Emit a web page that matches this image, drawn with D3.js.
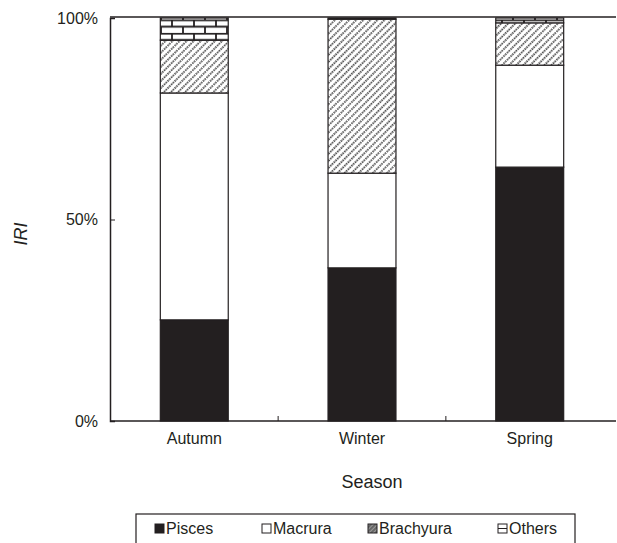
<!DOCTYPE html>
<html><head><meta charset="utf-8">
<script src="https://cdn.jsdelivr.net/npm/d3@7/dist/d3.min.js"></script>
<style>body{margin:0;background:#fff}svg{display:block}text{font-family:"Liberation Sans",Arial,sans-serif;fill:#231f20}</style>
</head><body><svg id="c" width="617" height="543"></svg>
<script>
const seasons = ["Autumn", "Winter", "Spring"];
const groups = ["Pisces", "Macrura", "Brachyura", "Others"];
const pisces = [25.1, 38.0, 63.0];
const macrura = [56.3, 23.5, 25.3];
const brachyura = [13.1, 38.2, 10.5];
const others = [5.5, 0.3, 1.2];
const yTicks = [0, 50, 100];

(function(){
const svg = d3.select("#c");
const ink = "#231f20";
const defs = svg.append("defs");
const hatch = defs.append("pattern").attr("id","hatch").attr("patternUnits","userSpaceOnUse")
  .attr("width",5).attr("height",5).attr("patternTransform","rotate(45)");
hatch.append("rect").attr("width",5).attr("height",5).attr("fill","#fff");
hatch.append("line").attr("x1",1).attr("y1",0).attr("x2",1).attr("y2",5)
  .attr("stroke","#4a4a4a").attr("stroke-width",1.9).attr("stroke-dasharray","1.6,0.9");
const brick = defs.append("pattern").attr("id","brick").attr("patternUnits","userSpaceOnUse")
  .attr("width",22).attr("height",13.4).attr("x",161).attr("y",19.5);
brick.append("rect").attr("width",22).attr("height",13.4).attr("fill","#fff");
brick.append("path").attr("d","M0,0.75H22M0,7.2H22M11,0V7M0,7V13.4M22,7V13.4")
  .attr("stroke",ink).attr("stroke-width",1.8).attr("fill","none");
const legHatch = defs.append("pattern").attr("id","lh").attr("patternUnits","userSpaceOnUse")
  .attr("width",3).attr("height",3).attr("patternTransform","rotate(45)");
legHatch.append("rect").attr("width",3).attr("height",3).attr("fill","#999");
legHatch.append("line").attr("x1",1).attr("y1",0).attr("x2",1).attr("y2",3).attr("stroke","#333").attr("stroke-width",1);
const fills = {Pisces: ink, Macrura: "#fff", Brachyura: "url(#hatch)", Others: "url(#brick)"};

const mL = 110, mR = 614, mT = 18, mB = 421;
const x = d3.scaleBand().domain(seasons).range([mL, mR]).paddingInner(0.595).paddingOuter(0.3);
const y = d3.scaleLinear().domain([0, 100]).range([mB, mT]);

const rows = seasons.map((s, i) => ({season: s, Pisces: pisces[i], Macrura: macrura[i], Brachyura: brachyura[i], Others: others[i]}));
const stack = d3.stack().keys(groups)(rows);

stack.forEach(layer => {
  svg.append("g").selectAll("rect").data(layer).join("rect")
    .attr("x", d => x(d.data.season))
    .attr("width", x.bandwidth())
    .attr("y", d => y(d[1]))
    .attr("height", d => y(d[0]) - y(d[1]))
    .attr("fill", fills[layer.key])
    .attr("stroke", ink).attr("stroke-width", 1.2);
});

const ya = svg.append("g").attr("transform", `translate(${mL},0)`)
  .call(d3.axisLeft(y).tickValues(yTicks).tickSize(-5).tickPadding(12).tickFormat(d => d + "%"));
ya.select(".domain").attr("stroke", ink).attr("stroke-width", 1.5);
ya.selectAll("line").attr("stroke", ink);
ya.selectAll("text").attr("font-size", 16).attr("fill", "#231f20").attr("font-family", "Liberation Sans, Arial, sans-serif");

const xa = svg.append("g").attr("transform", `translate(0,${mB})`)
  .call(d3.axisBottom(x).tickSize(0).tickPadding(12));
xa.select(".domain").remove();
xa.selectAll("text").attr("font-size", 16).attr("fill", "#231f20").attr("font-family", "Liberation Sans, Arial, sans-serif");
svg.append("line").attr("x1", mL).attr("x2", mR + 2).attr("y1", mB).attr("y2", mB)
  .attr("stroke", ink).attr("stroke-width", 1.5);
svg.append("line").attr("x1", mL).attr("x2", mR + 2).attr("y1", mT - 1).attr("y2", mT - 1)
  .attr("stroke", ink).attr("stroke-width", 1.5);
const step = x.step();
svg.append("g").selectAll("line").data(seasons.slice(0, -1)).join("line")
  .attr("x1", d => x(d) + x.bandwidth() + (step - x.bandwidth()) / 2)
  .attr("x2", d => x(d) + x.bandwidth() + (step - x.bandwidth()) / 2)
  .attr("y1", mB).attr("y2", mB - 5).attr("stroke", ink);

svg.append("text").attr("x", (mL + mR) / 2 + 10).attr("y", 488).attr("text-anchor", "middle")
  .attr("font-size", 18).text("Season");
svg.append("text").attr("transform", "translate(27,234) rotate(-90)").attr("text-anchor", "middle")
  .attr("font-size", 18).attr("font-style", "italic").text("IRI");

svg.append("rect").attr("x", 136).attr("y", 514).attr("width", 439).attr("height", 40)
  .attr("fill", "none").attr("stroke", ink).attr("stroke-width", 1.2);
const legX = [155, 262, 368, 498];
const lg = svg.append("g").selectAll("g").data(groups).join("g")
  .attr("transform", (d, i) => `translate(${legX[i]},0)`);
lg.append("rect").attr("x", 0).attr("y", 524).attr("width", 9).attr("height", 9)
  .attr("fill", d => d === "Pisces" ? ink : d === "Brachyura" ? "url(#lh)" : "#fff")
  .attr("stroke", ink).attr("stroke-width", 1);
lg.filter(d => d === "Others").append("line").attr("x1", 0).attr("x2", 9).attr("y1", 528.5).attr("y2", 528.5).attr("stroke", ink);
lg.append("text").attr("x", 11).attr("y", 534).attr("font-size", 16).text(d => d);
})();
</script></body></html>
